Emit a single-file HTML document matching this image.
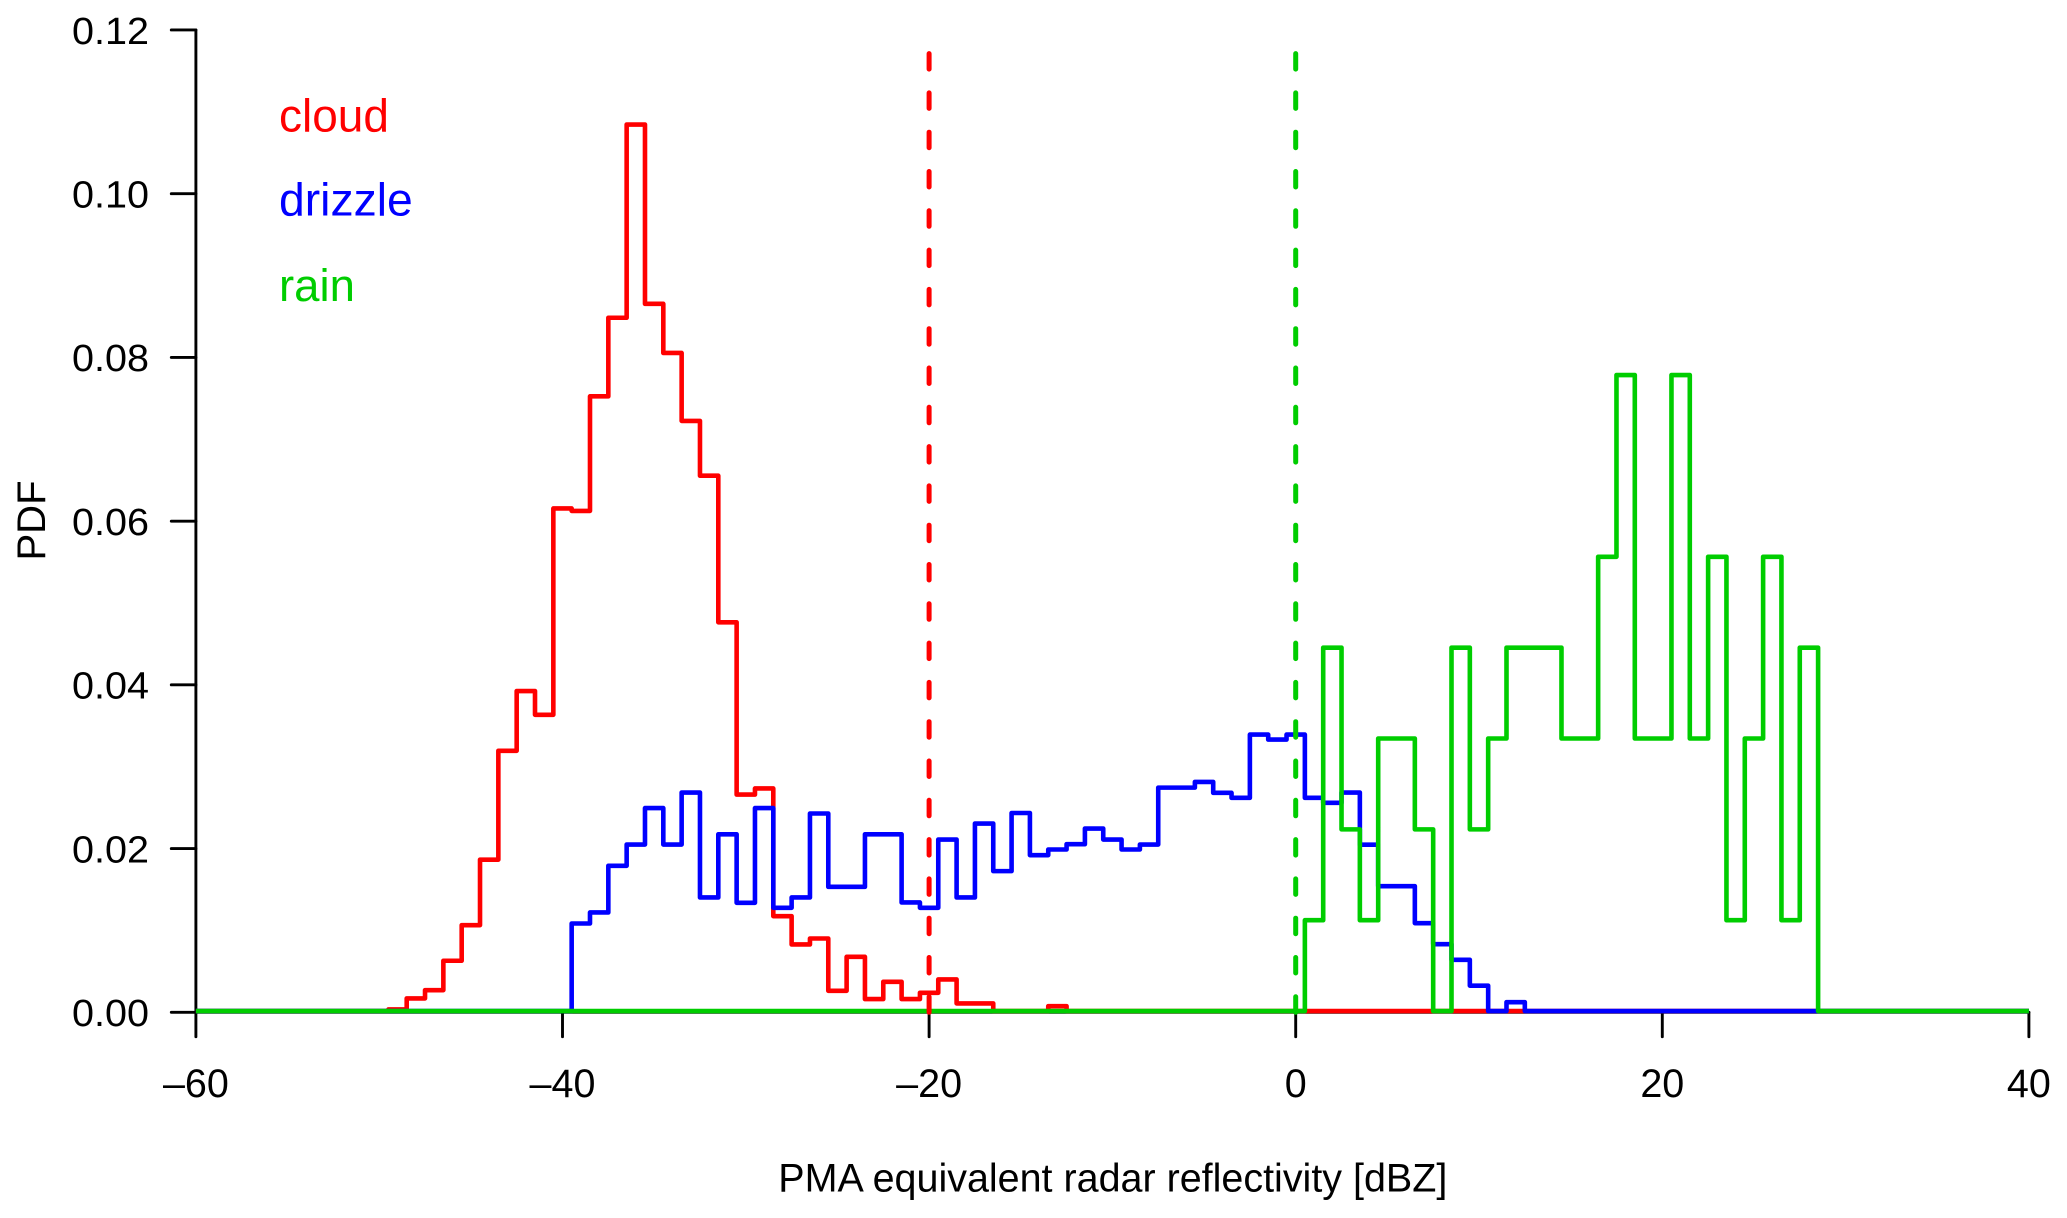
<!DOCTYPE html>
<html lang="en">
<head>
<meta charset="utf-8">
<title>PDF of PMA equivalent radar reflectivity</title>
<style>
html,body{margin:0;padding:0;background:#fff;}
svg{display:block;}
text{font-family:"Liberation Sans",Arial,sans-serif;fill:#000;}
</style>
</head>
<body>
<svg id="chart" xmlns="http://www.w3.org/2000/svg" width="2067" height="1218" viewBox="0 0 2067 1218">
  <rect x="0" y="0" width="2067" height="1218" fill="#ffffff"/>
  <g id="axes"></g>
  <g id="series" transform="translate(0,-1.2)"></g>
  <g id="guides"></g>
  <text x="1112.8" y="1191.5" font-size="40" text-anchor="middle" textLength="669" lengthAdjust="spacingAndGlyphs">PMA equivalent radar reflectivity [dBZ]</text>
  <text transform="translate(45,520.5) rotate(-90)" font-size="40" text-anchor="middle">PDF</text>
  <text x="279" y="131.5" font-size="46" style="fill:#ff0000">cloud</text>
  <text x="279" y="215.5" font-size="46.3" style="fill:#0000ff">drizzle</text>
  <text x="279" y="301" font-size="45.5" style="fill:#00cd00">rain</text>
</svg>
<script>
// Axis ticks
const xTicks = [-60, -40, -20, 0, 20, 40];
const xTickLabels = ["\u201360", "\u201340", "\u201320", "0", "20", "40"];
const yTicks = [0, 0.02, 0.04, 0.06, 0.08, 0.10, 0.12];
const yTickLabels = ["0.00", "0.02", "0.04", "0.06", "0.08", "0.10", "0.12"];

// Histogram data: first bin centre (dBZ) and PDF per 1 dBZ bin
const cloudFirstBin = -49;
const cloudPdf = [0.0002, 0.00155, 0.00256, 0.00615, 0.0105, 0.0185, 0.0318, 0.0391, 0.0362, 0.0614, 0.0611, 0.0751, 0.0847, 0.1083, 0.0864, 0.0804, 0.0721, 0.0654, 0.0475, 0.02645, 0.0272, 0.0116, 0.00814, 0.00887, 0.00248, 0.00663, 0.00147, 0.00358, 0.00147, 0.00224, 0.00387, 0.00094, 0.00094, 0, 0, 0, 0.0006];

const drizzleFirstBin = -39;
const drizzlePdf = [0.0107, 0.01205, 0.01775, 0.02035, 0.0248, 0.02035, 0.0267, 0.01388, 0.0216, 0.01323, 0.0248, 0.01262, 0.01388, 0.02414, 0.01518, 0.01518, 0.0216, 0.0216, 0.01327, 0.01262, 0.02096, 0.01388, 0.02291, 0.0171, 0.0242, 0.01905, 0.01974, 0.02039, 0.0223, 0.02096, 0.01974, 0.02035, 0.0273, 0.0273, 0.028, 0.02666, 0.02605, 0.03378, 0.03317, 0.03378, 0.02605, 0.02544, 0.0267, 0.02033, 0.01526, 0.01526, 0.01074, 0.00818, 0.00627, 0.00311, 0, 0.00109];

const rainFirstBin = 1;
const rainPdf = [0.0111, 0.0444, 0.0222, 0.0111, 0.0333, 0.0333, 0.0222, 0, 0.0444, 0.0222, 0.0333, 0.0444, 0.0444, 0.0444, 0.0333, 0.0333, 0.0555, 0.0777, 0.0333, 0.0333, 0.0777, 0.0333, 0.0555, 0.0111, 0.0333, 0.0555, 0.0111, 0.0444];

// Threshold lines (dBZ)
const cloudThreshold = -20;
const rainThreshold = 0;
const thresholdTop = 0.1172;

const SVG_NS = "http://www.w3.org/2000/svg";
const xDomainMin = -60, xDomainMax = 40;
function x(v) { return 1295.7 + 18.33 * v; }
function y(v) { return 1012.3 - 8186 * v; }

const axes = document.getElementById("axes");
const seriesGroup = document.getElementById("series");
const guides = document.getElementById("guides");

function makeLine(parent, x1, y1, x2, y2) {
  const l = document.createElementNS(SVG_NS, "line");
  l.setAttribute("x1", x1);
  l.setAttribute("y1", y1);
  l.setAttribute("x2", x2);
  l.setAttribute("y2", y2);
  l.setAttribute("stroke", "#000");
  l.setAttribute("stroke-width", "2.9");
  l.setAttribute("stroke-linecap", "round");
  parent.appendChild(l);
  return l;
}

const xAxisLine = makeLine(axes, x(xDomainMin), y(0), x(xDomainMax), y(0));


const yAxisLine = makeLine(axes, x(xDomainMin), y(0), x(xDomainMin), y(0.12));



xTicks.forEach(function (t, i) {
  const tick = makeLine(axes, x(t), y(0), x(t), y(0) + 24.4);
  
  
  const label = document.createElementNS(SVG_NS, "text");
  
  
  label.setAttribute("x", x(t));
  label.setAttribute("y", 1097);
  label.setAttribute("font-size", "39.5");
  label.setAttribute("text-anchor", "middle");
  label.textContent = xTickLabels[i];
  axes.appendChild(label);
});

yTicks.forEach(function (t, i) {
  const tick = makeLine(axes, x(xDomainMin) - 24.6, y(t), x(xDomainMin), y(t));
  
  
  const label = document.createElementNS(SVG_NS, "text");
  
  
  label.setAttribute("x", 149);
  label.setAttribute("y", y(t) + 13.8);
  label.setAttribute("font-size", "38");
  label.setAttribute("text-anchor", "end");
  label.setAttribute("textLength", "77");
  label.setAttribute("lengthAdjust", "spacingAndGlyphs");
  label.textContent = yTickLabels[i];
  axes.appendChild(label);
});

function stepPath(firstBin, values) {
  let d = "M" + x(xDomainMin) + " " + y(0);
  d += " L" + x(firstBin - 0.5) + " " + y(0);
  values.forEach(function (v, i) {
    const c = firstBin + i;
    d += " L" + x(c - 0.5) + " " + y(v);
    d += " L" + x(c + 0.5) + " " + y(v);
  });
  d += " L" + x(firstBin + values.length - 0.5) + " " + y(0);
  d += " L" + x(xDomainMax) + " " + y(0);
  return d;
}

function makeSeries(firstBin, values, color) {
  const p = document.createElementNS(SVG_NS, "path");
  p.setAttribute("d", stepPath(firstBin, values));
  p.setAttribute("fill", "none");
  p.setAttribute("stroke", color);
  p.setAttribute("stroke-width", "4.6");
  p.setAttribute("stroke-linejoin", "round");
  seriesGroup.appendChild(p);
  return p;
}

const cloudSeries = makeSeries(cloudFirstBin, cloudPdf, "#ff0000");


const drizzleSeries = makeSeries(drizzleFirstBin, drizzlePdf, "#0000ff");


const rainSeries = makeSeries(rainFirstBin, rainPdf, "#00cd00");



function makeGuide(v, color) {
  const l = document.createElementNS(SVG_NS, "line");
  l.setAttribute("x1", x(v));
  l.setAttribute("y1", y(0));
  l.setAttribute("x2", x(v));
  l.setAttribute("y2", y(thresholdTop));
  l.setAttribute("stroke", color);
  l.setAttribute("stroke-width", "5");
  l.setAttribute("stroke-linecap", "round");
  l.setAttribute("stroke-dasharray", "15.5 23.8");
  guides.appendChild(l);
  return l;
}

const cloudGuide = makeGuide(cloudThreshold, "#ff0000");


const rainGuide = makeGuide(rainThreshold, "#00cd00");


</script>
</body>
</html>
